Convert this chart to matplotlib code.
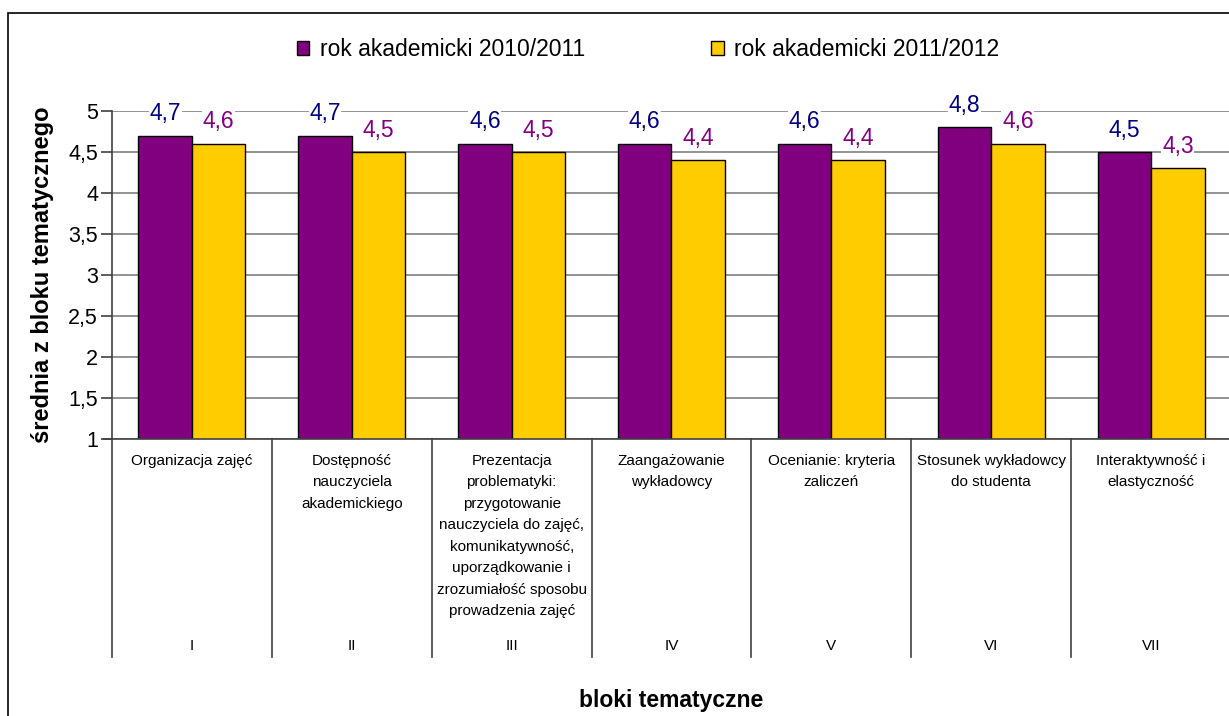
import matplotlib
matplotlib.use("Agg")
import matplotlib.pyplot as plt
import matplotlib.transforms as mtransforms
from matplotlib.patches import Rectangle
from matplotlib.ticker import FuncFormatter, MultipleLocator
import numpy as np

plt.rcParams['font.family'] = ['Liberation Sans', 'DejaVu Sans']

categories = [
    "Organizacja zajęć",
    "Dostępność\nnauczyciela\nakademickiego",
    "Prezentacja\nproblematyki:\nprzygotowanie\nnauczyciela do zajęć,\nkomunikatywność,\nuporządkowanie i\nzrozumiałość sposobu\nprowadzenia zajęć",
    "Zaangażowanie\nwykładowcy",
    "Ocenianie: kryteria\nzaliczeń",
    "Stosunek wykładowcy\ndo studenta",
    "Interaktywność i\nelastyczność",
]
roman = ["I", "II", "III", "IV", "V", "VI", "VII"]
series_names = ["rok akademicki 2010/2011", "rok akademicki 2011/2012"]
values_2010 = [4.7, 4.7, 4.6, 4.6, 4.6, 4.8, 4.5]
values_2011 = [4.6, 4.5, 4.5, 4.4, 4.4, 4.6, 4.3]

W, H = 1229, 716
fig = plt.figure(figsize=(W / 100, H / 100), dpi=100)
fig.patch.set_facecolor('white')

# chart-area frame (extends past right/bottom edges)
fig.patches.append(Rectangle((7.5 / W, -0.1), 1.2, 1 - 12.5 / H + 0.1,
                             transform=fig.transFigure, fill=False,
                             edgecolor='black', linewidth=1.2))

left, right, top, bottom = 112, 1231, 111, 439
ax = fig.add_axes([left / W, 1 - bottom / H, (right - left) / W, (bottom - top) / H])

x = np.arange(len(categories))
bw = 0.335
b1 = ax.bar(x - bw / 2, values_2010, bw, bottom=0, color='#800080',
            edgecolor='black', linewidth=1.0, zorder=3, label=series_names[0])
b2 = ax.bar(x + bw / 2, values_2011, bw, color='#FFCC00',
            edgecolor='black', linewidth=1.0, zorder=3, label=series_names[1])

ax.set_xlim(-0.5, len(categories) - 0.5)
ax.set_ylim(1, 5)
ax.yaxis.set_major_locator(MultipleLocator(0.5))
ax.yaxis.set_major_formatter(FuncFormatter(lambda v, p: f"{v:g}".replace('.', ',')))
ax.grid(axis='y', color='#808080', linewidth=1.2, zorder=0)
ax.set_axisbelow(True)
for s in ['top', 'right', 'bottom']:
    ax.spines[s].set_visible(False)
ax.spines['left'].set_color('#404040')
ax.spines['left'].set_linewidth(1.2)
ax.tick_params(axis='y', length=8, width=1.2, color='#404040', labelsize=15.5, pad=2)
ax.set_xticks([])

for rect, v in zip(b1, values_2010):
    ax.annotate(f"{v:g}".replace('.', ','), (rect.get_x() + rect.get_width() / 2, v),
                xytext=(0, 7.5), textcoords='offset points', ha='center', va='bottom',
                fontsize=16.5, color='#000080', zorder=5,
                bbox=dict(facecolor='white', edgecolor='none', pad=0.5))
for rect, v in zip(b2, values_2011):
    ax.annotate(f"{v:g}".replace('.', ','), (rect.get_x() + rect.get_width() / 2, v),
                xytext=(0, 7.5), textcoords='offset points', ha='center', va='bottom',
                fontsize=16.5, color='#800080', zorder=5,
                bbox=dict(facecolor='white', edgecolor='none', pad=0.5))

trans = mtransforms.blended_transform_factory(ax.transData, ax.transAxes)
ax_h = bottom - top
div_bottom = -(657 - bottom) / ax_h
# bottom axis line (extends left as a tick)
ax.plot([-0.5 - 8 / 159.8, len(categories) - 0.5], [0, 0], transform=trans,
        color='#404040', linewidth=1.2, clip_on=False, zorder=4)
for i in range(len(categories) + 1):
    ax.plot([i - 0.5, i - 0.5], [0, div_bottom], transform=trans,
            color='#404040', linewidth=1.2, clip_on=False)
for i, (lab, r) in enumerate(zip(categories, roman)):
    ax.text(i, -(454 - bottom) / ax_h, lab, transform=trans, ha='center', va='top',
            fontsize=11, linespacing=1.68)
    ax.text(i, -(646 - bottom) / ax_h, r, transform=trans, ha='center', va='center',
            fontsize=11)

ax.set_ylabel("średnia z bloku tematycznego", fontsize=17, fontweight='bold')
ax.yaxis.set_label_coords(-(112 - 54) / (right - left), 0.5)
fig.text(671 / W, 1 - 700 / H, "bloki tematyczne", ha='center', va='center',
         fontsize=16.5, fontweight='bold')

leg = fig.legend(handles=[b1, b2], labels=series_names, loc='center',
                 bbox_to_anchor=(648 / W, 1 - 50 / H), ncol=2, frameon=False,
                 fontsize=16.5, handlelength=0.55, handleheight=0.55, handletextpad=0.45,
                 columnspacing=5.5)

fig.savefig("out.png", dpi=100, facecolor='white')
